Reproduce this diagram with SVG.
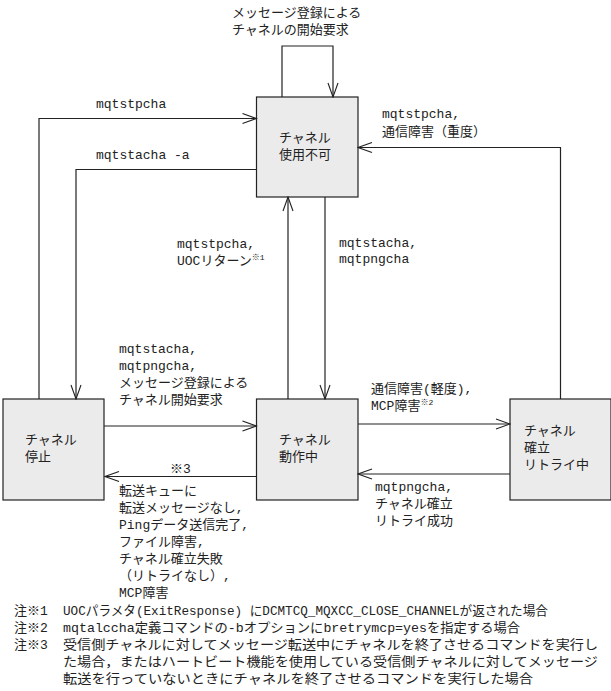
<svg xmlns="http://www.w3.org/2000/svg" width="611" height="691" viewBox="0 0 611 691">
<style>
text{font-family:"Liberation Mono","Noto Sans CJK JP",monospace;font-size:13px;fill:#222}
.box{fill:#ebebeb;stroke:#222;stroke-width:1.2}
.c{fill:none;stroke:#222;stroke-width:1.2;marker-end:url(#a)}
</style>
<defs><marker id="a" markerWidth="16" markerHeight="12" refX="15" refY="6" orient="auto" markerUnits="userSpaceOnUse"><path d="M1,1 L15,6 L1,11" fill="none" stroke="#222" stroke-width="1.1"/></marker></defs>
<g id="n-unusable"><rect class="box" x="256.5" y="97" width="101.5" height="100"/><text x="279" y="142">チャネル</text><text x="279" y="159">使用不可</text></g>
<g id="n-stopped"><rect class="box" x="3" y="399" width="101" height="101"/><text x="25" y="444">チャネル</text><text x="25" y="461">停止</text></g>
<g id="n-running"><rect class="box" x="256.5" y="399" width="101.5" height="101"/><text x="279" y="444">チャネル</text><text x="279" y="461">動作中</text></g>
<g id="n-retry"><rect class="box" x="510" y="399" width="101" height="101"/><text x="524" y="435">チャネル</text><text x="524" y="452">確立</text><text x="524" y="469">リトライ中</text></g>
<g id="connectors">
<path class="c" d="M282,97 V46 H333 V97"/>
<path class="c" d="M39,399 V118.5 H256.5"/>
<path class="c" d="M256.5,169.5 H76 V399"/>
<path class="c" d="M560.5,399 V147.5 H358"/>
<path class="c" d="M288,399 V197"/>
<path class="c" d="M325,197 V399"/>
<path class="c" d="M104,426 H256.5"/>
<path class="c" d="M256.5,476.5 H105"/>
<path class="c" d="M358,424 H510"/>
<path class="c" d="M510,474 H358"/>
</g>
<g id="labels">
<text x="232" y="17">メッセージ登録による</text><text x="232" y="34">チャネルの開始要求</text>
<text x="96" y="108">mqtstpcha</text>
<text x="96" y="159">mqtstacha -a</text>
<text x="382" y="118">mqtstpcha,</text><text x="382" y="136">通信障害（重度）</text>
<text x="177" y="248">mqtstpcha,</text><text x="177" y="265">UOCリターン<tspan font-size="8" dy="-5">※1</tspan></text>
<text x="339" y="247">mqtstacha,</text><text x="339" y="263">mqtpngcha</text>
<text x="119" y="353">mqtstacha,</text><text x="119" y="370">mqtpngcha,</text><text x="119" y="387">メッセージ登録による</text><text x="119" y="404">チャネル開始要求</text>
<text x="371" y="393">通信障害(軽度),</text><text x="371" y="410">MCP障害<tspan font-size="8" dy="-5">※2</tspan></text>
<text x="170" y="473" font-size="8">※3</text>
<text x="119" y="495">転送キューに</text><text x="119" y="512">転送メッセージなし,</text><text x="119" y="529">Pingデータ送信完了,</text><text x="119" y="546">ファイル障害,</text><text x="119" y="563">チャネル確立失敗</text><text x="119" y="580">（リトライなし）,</text><text x="119" y="597">MCP障害</text>
<text x="375" y="491">mqtpngcha,</text><text x="375" y="508">チャネル確立</text><text x="375" y="525">リトライ成功</text>
</g>
<g id="notes">
<text x="14" y="615">注※1</text><text x="63" y="615" textLength="485" lengthAdjust="spacingAndGlyphs">UOCパラメタ(ExitResponse) にDCMTCQ_MQXCC_CLOSE_CHANNELが返された場合</text>
<text x="14" y="632">注※2</text><text x="63" y="632" textLength="457" lengthAdjust="spacingAndGlyphs">mqtalccha定義コマンドの-bオプションにbretrymcp=yesを指定する場合</text>
<text x="14" y="649">注※3</text><text x="63" y="649" textLength="535" lengthAdjust="spacingAndGlyphs">受信側チャネルに対してメッセージ転送中にチャネルを終了させるコマンドを実行し</text>
<text x="63" y="666" textLength="535" lengthAdjust="spacingAndGlyphs">た場合，またはハートビート機能を使用している受信側チャネルに対してメッセージ</text>
<text x="63" y="683" textLength="470" lengthAdjust="spacingAndGlyphs">転送を行っていないときにチャネルを終了させるコマンドを実行した場合</text>
</g>
</svg>
